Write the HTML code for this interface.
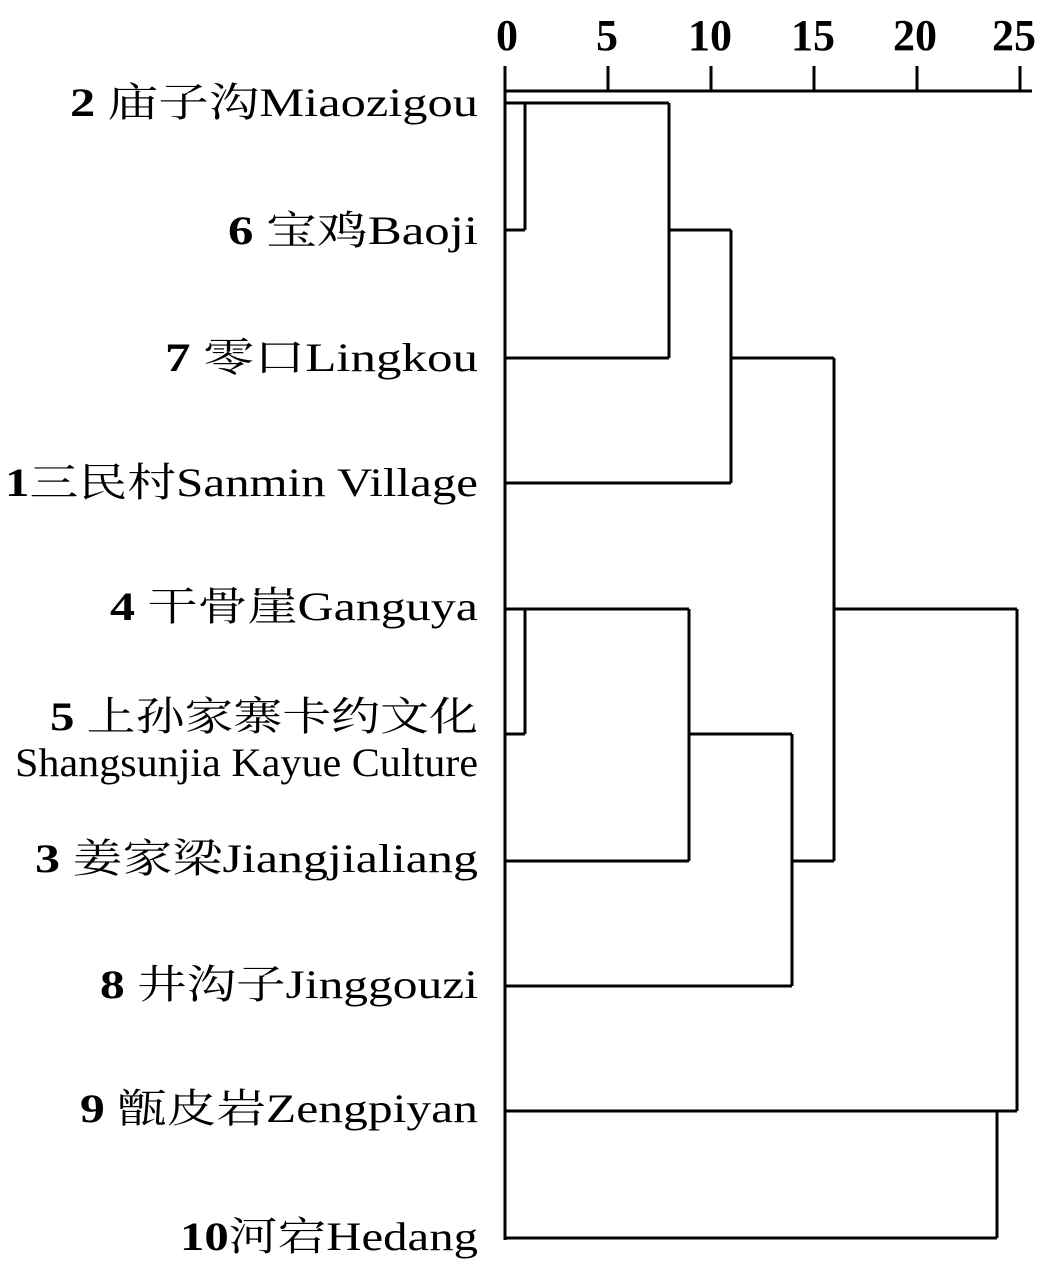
<!DOCTYPE html>
<html><head><meta charset="utf-8"><style>html,body{margin:0;padding:0;background:#fff}svg{display:block}</style></head>
<body>
<svg width="1044" height="1280" viewBox="0 0 1044 1280" xmlns="http://www.w3.org/2000/svg" font-family="'Liberation Serif','Noto Serif CJK SC',serif" fill="#000">
<g font-weight="bold" font-size="44" text-anchor="middle">
<text x="507" y="50">0</text><text x="607" y="50">5</text><text x="710" y="50">10</text><text x="813" y="50">15</text><text x="915" y="50">20</text><text x="1014" y="50">25</text>
</g>
<g stroke="#000" stroke-width="3" fill="none">
<path d="M505 91H1032"/>
<path d="M505 66V91M608 66V91M711 66V91M814 66V91M917 66V91M1020 66V91"/>
<path d="M505 91V1240"/>
<path d="M505 103H669M525 103V230M505 230H525"/>
<path d="M669 103V358M505 358H669M669 230H731M731 230V483M505 483H731"/>
<path d="M731 358H834M834 358V861"/>
<path d="M505 609H689M525 609V734M505 734H525M689 609V861M505 861H689"/>
<path d="M689 734H792M792 734V986M505 986H792M792 861H834"/>
<path d="M834 609H1017M1017 609V1111M505 1111H1017"/>
<path d="M997 1111V1238M505 1238H997"/>
</g>
<g font-size="40" lengthAdjust="spacingAndGlyphs">
<text x="70" y="116" textLength="408" lengthAdjust="spacingAndGlyphs"><tspan font-weight="bold">2</tspan>  庙子沟Miaozigou</text>
<text x="228" y="244" textLength="250" lengthAdjust="spacingAndGlyphs"><tspan font-weight="bold">6</tspan>  宝鸡Baoji</text>
<text x="165" y="371" textLength="313" lengthAdjust="spacingAndGlyphs"><tspan font-weight="bold">7</tspan>  零口Lingkou</text>
<text x="5" y="496" textLength="473" lengthAdjust="spacingAndGlyphs"><tspan font-weight="bold">1</tspan>三民村Sanmin Village</text>
<text x="110" y="620" textLength="368" lengthAdjust="spacingAndGlyphs"><tspan font-weight="bold">4</tspan>  干骨崖Ganguya</text>
<text x="50" y="730" textLength="428" lengthAdjust="spacingAndGlyphs"><tspan font-weight="bold">5</tspan> 上孙家寨卡约文化</text>
<text x="15" y="776" textLength="463" lengthAdjust="spacingAndGlyphs">Shangsunjia Kayue Culture</text>
<text x="35" y="872" textLength="443" lengthAdjust="spacingAndGlyphs"><tspan font-weight="bold">3</tspan>  姜家梁Jiangjialiang</text>
<text x="100" y="998" textLength="378" lengthAdjust="spacingAndGlyphs"><tspan font-weight="bold">8</tspan>  井沟子Jinggouzi</text>
<text x="80" y="1122" textLength="398" lengthAdjust="spacingAndGlyphs"><tspan font-weight="bold">9</tspan>  甑皮岩Zengpiyan</text>
<text x="180" y="1250" textLength="298" lengthAdjust="spacingAndGlyphs"><tspan font-weight="bold">10</tspan>河宕Hedang</text>
</g>
</svg>
</body></html>
